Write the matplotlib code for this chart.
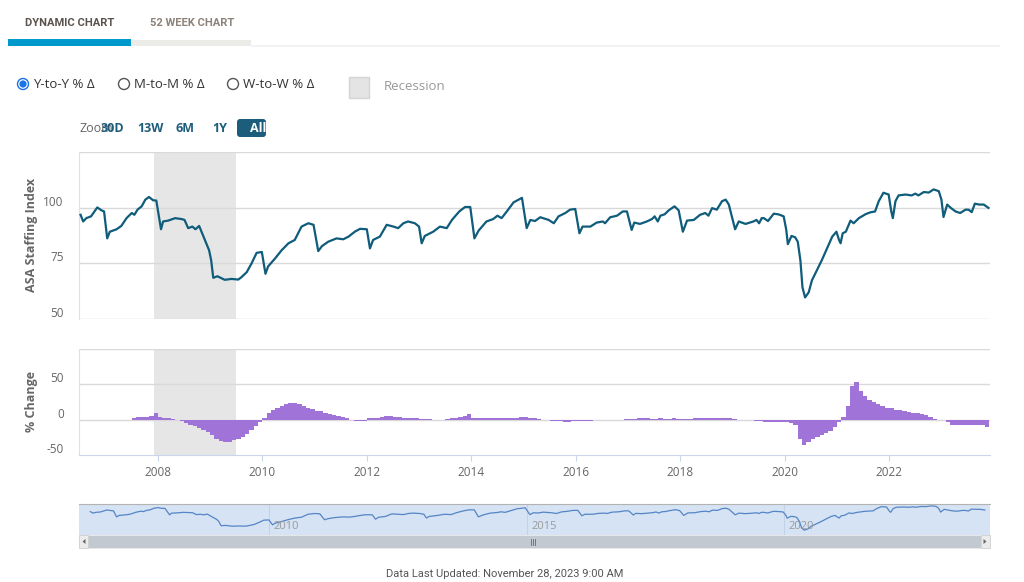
import pandas as pd
import matplotlib
matplotlib.use('Agg')
import matplotlib.pyplot as plt
from matplotlib.patches import Rectangle, Circle, FancyBboxPatch, Polygon

plt.rcParams['font.family'] = ['Open Sans', 'DejaVu Sans']

# ASA staffing index (decimal year, index value)
idx_year = [
    2006.52, 2006.57, 2006.63, 2006.72, 2006.84, 2006.92, 2006.97, 2007.03, 2007.08, 2007.21,
    2007.30, 2007.40, 2007.50, 2007.55, 2007.61, 2007.69, 2007.76, 2007.83, 2007.91, 2007.97,
    2008.06, 2008.10, 2008.20, 2008.33, 2008.45, 2008.51, 2008.58, 2008.66, 2008.72, 2008.79,
    2008.90, 2008.98, 2009.02, 2009.06, 2009.14, 2009.28, 2009.41, 2009.54, 2009.60, 2009.70,
    2009.79, 2009.89, 2009.99, 2010.06, 2010.11, 2010.24, 2010.37, 2010.50, 2010.62, 2010.75,
    2010.88, 2010.98, 2011.07, 2011.14, 2011.26, 2011.42, 2011.55, 2011.65, 2011.77, 2011.87,
    2012.00, 2012.06, 2012.12, 2012.25, 2012.38, 2012.51, 2012.60, 2012.70, 2012.79, 2012.92,
    2013.00, 2013.05, 2013.11, 2013.27, 2013.40, 2013.53, 2013.63, 2013.77, 2013.88, 2013.98,
    2014.06, 2014.14, 2014.29, 2014.42, 2014.50, 2014.58, 2014.68, 2014.81, 2014.97, 2015.06,
    2015.13, 2015.22, 2015.32, 2015.48, 2015.58, 2015.67, 2015.80, 2015.89, 2015.99, 2016.07,
    2016.13, 2016.28, 2016.40, 2016.52, 2016.56, 2016.66, 2016.79, 2016.90, 2016.98, 2017.07,
    2017.12, 2017.23, 2017.36, 2017.46, 2017.51, 2017.57, 2017.62, 2017.70, 2017.78, 2017.89,
    2017.97, 2018.05, 2018.13, 2018.26, 2018.38, 2018.48, 2018.54, 2018.61, 2018.70, 2018.80,
    2018.87, 2018.93, 2019.05, 2019.12, 2019.25, 2019.40, 2019.46, 2019.51, 2019.56, 2019.60,
    2019.68, 2019.79, 2019.88, 2019.98, 2020.03, 2020.06, 2020.13, 2020.20, 2020.25, 2020.30,
    2020.34, 2020.39, 2020.46, 2020.52, 2020.62, 2020.71, 2020.81, 2020.91, 2020.99, 2021.04,
    2021.07, 2021.11, 2021.17, 2021.26, 2021.32, 2021.42, 2021.55, 2021.64, 2021.73, 2021.80,
    2021.89, 2021.99, 2022.04, 2022.07, 2022.12, 2022.18, 2022.31, 2022.43, 2022.50, 2022.56,
    2022.66, 2022.76, 2022.85, 2022.95, 2023.00, 2023.04, 2023.11, 2023.18, 2023.27, 2023.36,
    2023.46, 2023.52, 2023.58, 2023.64, 2023.72, 2023.81, 2023.90,
]
idx_value = [
    96.8, 93.8, 95.3, 96.1, 100.1, 98.8, 98.3, 86.2, 89.2, 90.3,
    91.8, 95.3, 97.6, 96.8, 99.1, 100.6, 103.6, 104.8, 103.3, 103.2,
    90.3, 93.8, 94.2, 95.3, 94.9, 94.5, 90.8, 91.5, 90.3, 91.8,
    85.5, 80.9, 76.4, 68.5, 69.2, 67.6, 68.0, 67.7, 68.8, 71.0,
    74.8, 79.7, 80.1, 70.3, 73.6, 77.1, 80.9, 84.0, 85.5, 91.5,
    93.0, 92.3, 80.5, 82.7, 84.7, 86.2, 85.8, 87.0, 89.2, 90.5,
    90.3, 81.7, 85.5, 87.0, 92.3, 91.5, 90.8, 93.0, 93.8, 93.0,
    91.5, 84.0, 87.3, 89.2, 91.5, 90.8, 94.5, 98.3, 100.3, 100.3,
    86.2, 89.7, 93.8, 94.9, 96.4, 95.3, 98.3, 102.4, 104.4, 90.8,
    94.5, 94.0, 95.7, 94.5, 93.0, 96.1, 97.6, 99.1, 99.4, 88.5,
    91.5, 91.5, 93.3, 93.8, 93.0, 95.7, 96.4, 98.3, 98.3, 90.0,
    93.3, 92.7, 93.8, 94.9, 96.1, 93.8, 96.4, 97.0, 98.8, 100.6,
    98.8, 89.2, 94.2, 94.5, 96.8, 97.6, 96.4, 99.8, 99.1, 102.9,
    103.6, 101.4, 90.3, 93.8, 92.7, 93.8, 94.5, 93.0, 95.3, 95.3,
    94.0, 97.3, 97.0, 96.1, 90.0, 83.6, 87.3, 86.7, 84.7, 76.4,
    64.2, 59.7, 62.0, 67.3, 72.1, 76.4, 81.7, 87.0, 89.2, 85.5,
    84.0, 88.5, 89.2, 94.2, 93.0, 95.3, 97.1, 97.9, 98.3, 102.9,
    106.7, 105.9, 98.3, 95.3, 102.9, 105.5, 105.9, 105.5, 106.3, 105.5,
    107.0, 106.8, 108.2, 107.4, 103.6, 95.8, 101.4, 99.9, 98.3, 97.6,
    99.1, 99.1, 98.0, 101.8, 101.4, 101.4, 99.9,
]

# year-over-year % change, one value per month starting Jul 2007
yoy_first_month = '2007-07'
yoy_change = [
    3, 4, 4, 4, 5, 9,
    4, 3, 3, 1, 0, -2, -5, -7, -9, -12, -15, -18,
    -22, -27, -30, -31, -31, -29, -27, -24, -20, -15, -9, -3,
    3, 9, 13, 17, 20, 22, 23, 23, 22, 20, 17, 15,
    12, 12, 10, 8, 7, 5, 4, 2, 0, -2, -2, -2,
    2, 3, 3, 4, 5, 5, 4, 4, 3, 3, 2, 2,
    1, 1, 1, 0, 0, 0, 1, 2, 3, 4, 5, 8,
    2, 2, 2, 2, 2, 3, 3, 3, 3, 2, 3, 4,
    4, 3, 2, 1, 0, -1, -2, -2, -2, -3, -3, -2,
    -2, -2, -2, -2, -1, 0, 0, 0, -1, -1, 0, 1,
    1, 1, 2, 2, 2, 1, 1, 2, 1, 1, 2, 1,
    1, 1, 1, 2, 2, 2, 2, 3, 3, 3, 2, 2,
    1, 0, -1, -1, -1, -2, -2, -3, -3, -3, -3, -4,
    -4, -5, -7, -28, -36, -32, -27, -24, -22, -19, -16, -10,
    -3, 4, 20, 48, 53, 40, 33, 28, 25, 22, 20, 17,
    16, 14, 13, 12, 11, 10, 9, 8, 7, 4, 1, 0,
    -1, -3, -8, -8, -8, -8, -8, -7, -7, -8, -10,
]

recession = (2007.92, 2009.50)
year_ticks = [2008, 2010, 2012, 2014, 2016, 2018, 2020, 2022]
nav_ticks = [2010, 2015, 2020]
index_ticks = [50, 75, 100]
change_ticks = [-50, 0, 50]
tabs = ['DYNAMIC CHART', '52 WEEK CHART']
modes = ['Y-to-Y % Δ', 'M-to-M % Δ', 'W-to-W % Δ']
zoom_buttons = ['30D', '13W', '6M', '1Y', 'All']

months = pd.period_range(yoy_first_month, periods=len(yoy_change), freq='M')
yoy_x = [p.year + (p.month - 0.5) / 12 for p in months]

W, H = 1024, 582
fig = plt.figure(figsize=(W / 100, H / 100), dpi=100)


def px_axes(x0, y0, x1, y1):
    return fig.add_axes([x0 / W, 1 - y1 / H, (x1 - x0) / W, (y1 - y0) / H])


# overlay in pixel coords for the page furniture
ov = fig.add_axes([0, 0, 1, 1])
ov.set_xlim(0, W)
ov.set_ylim(H, 0)
ov.axis('off')

# tabs
ov.text(70, 23, tabs[0], ha='center', va='center', family='Roboto', weight='bold', size=8, color='#5a524c')
ov.text(192, 23, tabs[1], ha='center', va='center', family='Roboto', weight='bold', size=8, color='#8c8279')
ov.add_patch(Rectangle((251, 45), 749, 2, fc='#f2f2f2', ec='none'))
ov.add_patch(Rectangle((131, 40), 120, 6, fc='#ebebe8', ec='none'))
ov.add_patch(Rectangle((8, 39), 123, 7, fc='#0099cc', ec='none'))

# radio buttons
radio_x = [23, 124, 233]
for i, (cx, lab) in enumerate(zip(radio_x, modes)):
    ov.add_patch(Circle((cx, 84), 5.5, fc='white', ec='#1a73e8' if i == 0 else '#555', lw=1))
    if i == 0:
        ov.add_patch(Circle((cx, 84), 3.6, fc='#1a73e8', ec='none'))
    ov.text(cx + 10, 85, lab, va='center', size=9.5, color='#333')

ov.add_patch(Rectangle((349, 77), 20, 21, fc='#e4e4e4', ec='#d4d4d4', lw=1))
ov.text(384, 87, 'Recession', va='center', size=9.5, color='#999')

# range selector ("30D" sits over the end of "Zoom", as on the page)
ov.text(80, 128, 'Zoom', va='center', size=9, color='#666')
ov.add_patch(FancyBboxPatch((237, 119), 29, 18, boxstyle='round,pad=0,rounding_size=3',
                            fc='#1d5d7c', ec='none'))
btn_x = [112, 151, 185, 220, 258]
for x, lab in zip(btn_x, zoom_buttons):
    ov.text(x, 128, lab, ha='center', va='center', size=9, weight='bold',
            color='white' if lab == 'All' else '#1d5d7c')

# top panel: index line
ax1 = px_axes(79, 152, 990, 319)
ax1.axvspan(*recession, color='#e6e6e6', lw=0, zorder=0)
for v in [50, 75, 100, 125]:
    ax1.axhline(v, color='#d9d9d9', lw=1, zorder=1)
ax1.plot(idx_year, idx_value, color='#0f5c7b', lw=1.6, zorder=3)
ax1.set_xlim(2006.49, 2023.93)
ax1.set_ylim(50, 125)
ax1.set_xticks([])
ax1.set_yticks([])
for s in ['top', 'right', 'bottom']:
    ax1.spines[s].set_visible(False)
ax1.spines['left'].set_color('#e0e0e0')
for v in index_ticks:
    ax1.annotate(str(v), xy=(0, v), xycoords=('axes fraction', 'data'), xytext=(-11, 4),
                 textcoords='offset points', ha='right', va='center', size=8.5, color='#666')
ov.text(31, 235, 'ASA Staffing Index', rotation=90, ha='center', va='center',
        weight='bold', size=9, color='#666')

# bottom panel: % change bars
ax2 = px_axes(79, 349, 990, 455)
ax2.axvspan(*recession, color='#e6e6e6', lw=0, zorder=0)
for v in [0, 50, 100]:
    ax2.axhline(v, color='#d9d9d9', lw=1, zorder=1)
ax2.bar(yoy_x, yoy_change, width=1 / 12, color='#a073d8', lw=0, zorder=3)
ax2.set_xlim(2006.49, 2023.93)
ax2.set_ylim(-50, 100)
ax2.set_yticks([])
ax2.set_xticks(year_ticks)
ax2.set_xticklabels([str(y) for y in year_ticks])
ax2.tick_params(axis='x', length=4, color='#ccd6eb', labelsize=8.5, labelcolor='#666', pad=4)
for s in ['top', 'right']:
    ax2.spines[s].set_visible(False)
ax2.spines['bottom'].set_color('#ccd6eb')
ax2.spines['left'].set_color('#e0e0e0')
for v in change_ticks:
    ax2.annotate(str(v), xy=(0, v), xycoords=('axes fraction', 'data'), xytext=(-11, 4),
                 textcoords='offset points', ha='right', va='center', size=8.5, color='#666')
ov.text(31, 401, '% Change', rotation=90, ha='center', va='center',
        weight='bold', size=9, color='#666')

# navigator
ax3 = px_axes(79, 504, 990, 535)
ax3.set_facecolor('#d5e3f4')
for y in nav_ticks:
    ax3.axvline(y, color='#c3d2e6', lw=0.8, zorder=1)
    ax3.annotate(str(y), xy=(y, 0), xycoords=('data', 'axes fraction'), xytext=(3, 2),
                 textcoords='offset points', ha='left', va='bottom', size=8, color='#999')
ax3.plot(idx_year, idx_value, color='#5585c5', lw=0.9, zorder=2)
ax3.set_xlim(2006.3, 2024.0)
ax3.set_ylim(50, 112)
ax3.set_xticks([])
ax3.set_yticks([])
for s in ['left', 'right', 'bottom']:
    ax3.spines[s].set_visible(False)
ax3.spines['top'].set_color('#b3b3b3')

for hx in [89, 974]:
    ov.add_patch(Rectangle((hx, 511), 7, 15, fc='#f2f2f2', ec='#999', lw=0.8))
    ov.plot([hx + 2.5, hx + 2.5], [515, 522], color='#999', lw=0.6)
    ov.plot([hx + 4.5, hx + 4.5], [515, 522], color='#999', lw=0.6)

# scrollbar
ov.add_patch(Rectangle((79, 535), 911, 13, fc='#f2f2f2', ec='#e0e0e0', lw=0.5))
ov.add_patch(Rectangle((88, 535.5), 893, 12, fc='#c3c9d0', ec='none'))
ov.add_patch(Rectangle((79, 535), 9, 13, fc='#ebebeb', ec='#cccccc', lw=0.5))
ov.add_patch(Rectangle((981, 535), 9, 13, fc='#ebebeb', ec='#cccccc', lw=0.5))
ov.add_patch(Polygon([(85.5, 539), (85.5, 544), (82.5, 541.5)], fc='#666', ec='none'))
ov.add_patch(Polygon([(983.5, 539), (983.5, 544), (986.5, 541.5)], fc='#666', ec='none'))
for gx in [531, 533, 535]:
    ov.plot([gx, gx], [538.5, 544.5], color='#666', lw=0.6)

ov.text(505, 574, 'Data Last Updated: November 28, 2023 9:00 AM', ha='center', va='center',
        family='Roboto', size=8, color='#555')

fig.savefig('out.png', dpi=100)
